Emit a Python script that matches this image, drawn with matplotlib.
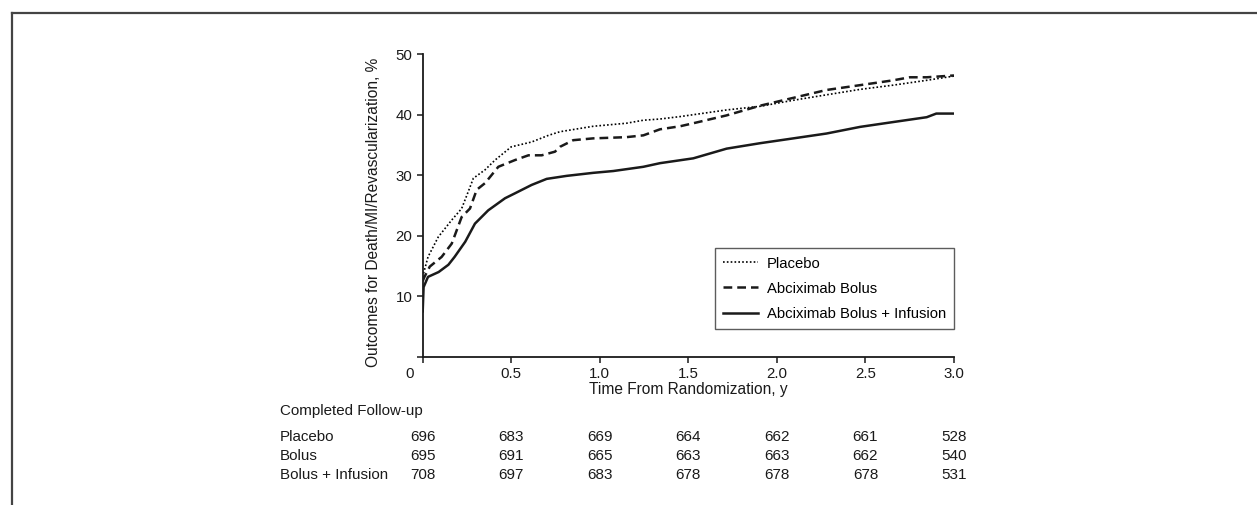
import matplotlib
matplotlib.use("Agg")
import matplotlib.pyplot as plt
import matplotlib.transforms as mtransforms
from matplotlib.lines import Line2D

plt.rcParams['font.family'] = ['Liberation Sans', 'DejaVu Sans']

# ---- data ----
placebo_t = [0, 0.005, 0.03, 0.088, 0.164, 0.22, 0.26, 0.286, 0.352, 0.408, 0.50, 0.615,
             0.71, 0.775, 0.963, 1.15, 1.246, 1.34, 1.453, 1.716, 1.905, 2.093, 2.28,
             2.47, 2.657, 2.846, 3.0]
placebo_v = [12.5, 13.8, 16.5, 19.8, 22.6, 24.5, 27.5, 29.5, 30.9, 32.5, 34.7, 35.5,
             36.6, 37.2, 38.1, 38.6, 39.1, 39.3, 39.7, 40.8, 41.4, 42.4, 43.3,
             44.2, 44.9, 45.7, 46.4]

bolus_t = [0, 0.01, 0.04, 0.107, 0.164, 0.22, 0.267, 0.305, 0.352, 0.427, 0.52, 0.597,
           0.672, 0.747, 0.775, 0.85, 0.963, 1.15, 1.246, 1.34, 1.453, 1.528, 1.716,
           1.905, 2.093, 2.28, 2.47, 2.657, 2.75, 2.846, 3.0]
bolus_v = [12.5, 13.2, 14.9, 16.5, 18.7, 23.1, 24.5, 27.6, 28.7, 31.4, 32.5, 33.3,
           33.3, 33.9, 34.7, 35.8, 36.1, 36.3, 36.6, 37.6, 38.1, 38.6, 39.9,
           41.5, 42.8, 44.1, 44.9, 45.7, 46.2, 46.2, 46.5]

infusion_t = [0, 0.005, 0.03, 0.09, 0.145, 0.18, 0.24, 0.295, 0.37, 0.465, 0.52, 0.615,
              0.70, 0.813, 0.963, 1.076, 1.246, 1.34, 1.528, 1.716, 1.905, 2.093,
              2.28, 2.47, 2.657, 2.846, 2.9, 3.0]
infusion_v = [7.5, 11.5, 13.2, 14.0, 15.2, 16.5, 19.0, 22.0, 24.2, 26.2, 27.0, 28.4,
              29.4, 29.9, 30.4, 30.7, 31.4, 32.0, 32.8, 34.4, 35.3, 36.1,
              36.9, 38.0, 38.8, 39.6, 40.2, 40.2]

series_labels = ["Placebo", "Abciximab Bolus", "Abciximab Bolus + Infusion"]

x_ticks = [0, 0.5, 1.0, 1.5, 2.0, 2.5, 3.0]
x_tick_labels = ["0", "0.5", "1.0", "1.5", "2.0", "2.5", "3.0"]
y_ticks = [0, 10, 20, 30, 40, 50]
y_tick_labels = ["", "10", "20", "30", "40", "50"]

table_title = "Completed Follow-up"
table_rows = ["Placebo", "Bolus", "Bolus + Infusion"]
followup_placebo = [696, 683, 669, 664, 662, 661, 528]
followup_bolus = [695, 691, 665, 663, 663, 662, 540]
followup_infusion = [708, 697, 683, 678, 678, 678, 531]

# ---- figure ----
W, H = 1257, 505
fig = plt.figure(figsize=(W / 100, H / 100), dpi=100)

def fx(px):
    return px / W

def fy(py):
    return 1 - py / H

ax = fig.add_axes([fx(422.7), fy(356.7), fx(954) - fx(422.7), fy(54.3) - fy(356.7)])

ax.plot(placebo_t, placebo_v, color='black', lw=1.2, linestyle=(0, (1, 1.3)),
        label=series_labels[0])
ax.plot(bolus_t, bolus_v, color='#1a1a1a', lw=1.8, linestyle=(0, (3.5, 2)),
        label=series_labels[1])
ax.plot(infusion_t, infusion_v, color='#1a1a1a', lw=1.8, linestyle='-',
        label=series_labels[2])

ax.set_xlim(0, 3.0)
ax.set_ylim(0, 50)
for s in ['top', 'right']:
    ax.spines[s].set_visible(False)
for s in ['left', 'bottom']:
    ax.spines[s].set_linewidth(1.3)
    ax.spines[s].set_color('#1a1a1a')

ax.set_xticks(x_ticks)
ax.set_xticklabels(x_tick_labels)
ax.set_yticks(y_ticks)
ax.set_yticklabels(y_tick_labels)
ax.tick_params(axis='both', direction='out', length=4, width=1.1, labelsize=10.8,
               colors='#1a1a1a', pad=3.5)
# shift the "0" x label left as in the reference
lbl0 = ax.get_xticklabels()[0]
lbl0.set_transform(lbl0.get_transform() + mtransforms.ScaledTranslation(-13 / 100, 0, fig.dpi_scale_trans))

ax.set_xlabel("Time From Randomization, y", fontsize=11.2, labelpad=0.5, color='#1a1a1a')
fig.text(fx(373), fy(212), "Outcomes for Death/MI/Revascularization, %", rotation=90,
         ha='center', va='center', fontsize=11.2, color='#1a1a1a')

leg = ax.legend(loc='lower right', bbox_to_anchor=(1.0, (356.7 - 329) / (356.7 - 54.3)),
                frameon=True, fancybox=False, fontsize=10.7, handlelength=2.3,
                labelspacing=0.75, borderpad=0.55, handletextpad=0.6, borderaxespad=0)
leg.get_frame().set_edgecolor('#333333')
leg.get_frame().set_linewidth(1.0)

# ---- follow-up table ----
blend = mtransforms.blended_transform_factory(ax.transData, fig.transFigure)
fig.text(fx(280), fy(411), table_title, ha='left', va='center', fontsize=10.9, color='#1a1a1a')
rows_y = [437, 456, 475]
for name, vals, ry in zip(table_rows, [followup_placebo, followup_bolus, followup_infusion], rows_y):
    fig.text(fx(280), fy(ry), name, ha='left', va='center', fontsize=10.9, color='#1a1a1a')
    for xv, val in zip(x_ticks, vals):
        ax.text(xv, fy(ry), str(val), transform=blend, ha='center', va='center',
                fontsize=11, color='#1a1a1a', clip_on=False)

# ---- page border ----
fig.add_artist(Line2D([fx(12), 1.0], [fy(13), fy(13)], transform=fig.transFigure,
                      color='#444444', lw=1.6))
fig.add_artist(Line2D([fx(12), fx(12)], [fy(13), 0.0], transform=fig.transFigure,
                      color='#444444', lw=1.6))

fig.savefig("out.png", dpi=100)
